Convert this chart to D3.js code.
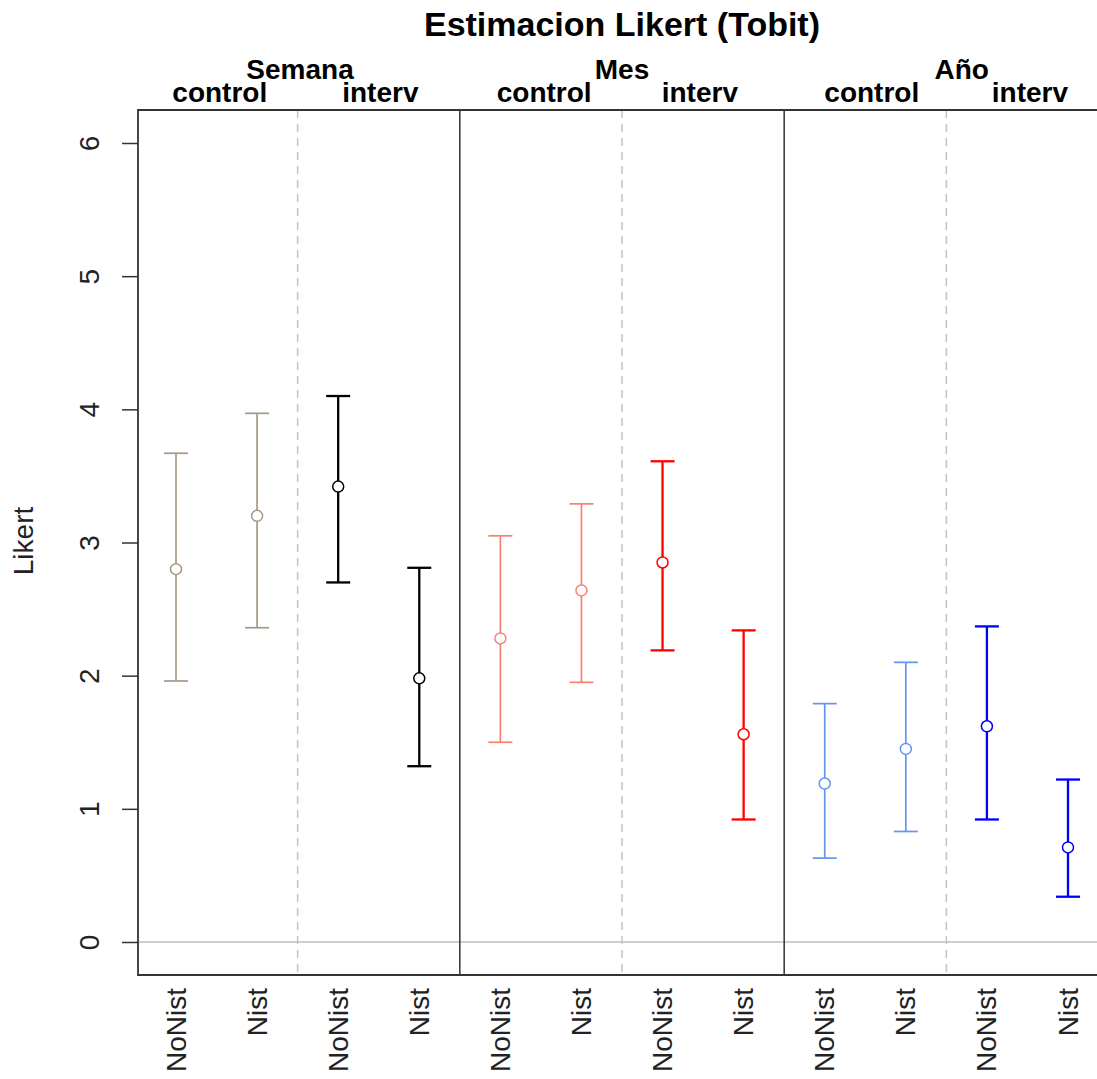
<!DOCTYPE html>
<html>
<head>
<meta charset="utf-8">
<script src="https://cdn.jsdelivr.net/npm/d3@7"></script>
<style>
  body { margin: 0; background: #fff; }
  svg text { font-family: "Liberation Sans", Arial, sans-serif; }
</style>
</head>
<body>
<svg id="chart" width="1097" height="1079"></svg>
<script>
// chart values
const periods = ["Semana", "Mes", "Año"];
const groups = ["control", "interv"];
const types = ["NoNist", "Nist"];
const estimates = [2.80, 3.20, 3.42, 1.98, 2.28, 2.64, 2.85, 1.56, 1.19, 1.45, 1.62, 0.71];
const lower = [1.96, 2.36, 2.70, 1.32, 1.50, 1.95, 2.19, 0.92, 0.63, 0.83, 0.92, 0.34];
const upper = [3.67, 3.97, 4.10, 2.81, 3.05, 3.29, 3.61, 2.34, 1.79, 2.10, 2.37, 1.22];
const seriesColors = ["#A59888", "#000000", "#FA8072", "#FF0000", "#6495ED", "#0000FF"];
const yTicks = [0, 1, 2, 3, 4, 5, 6];

// label placement, in slot units
const periodLabelPos = [1.53, 5.5, 9.69];
const groupLabelPos = [[0.54, 2.52], [4.54, 6.46], [8.58, 10.53]];

const svg = d3.select("#chart");
const plotLeft = 138, plotTop = 110, plotBottom = 975, plotRight = 1120;

const x = d3.scaleLinear().domain([0, 11]).range([176, 1068]);
const y = d3.scaleLinear().domain([0, 6]).range([942, 143]);

// flatten rows
const rows = estimates.map((est, i) => {
    const p = Math.floor(i / 4);
    const g = Math.floor((i % 4) / 2);
    return {
        i: i,
        est: est,
        lo: lower[i],
        hi: upper[i],
        type: types[i % 2],
        interv: g === 1,
        color: seriesColors[p * 2 + g]
    };
});

// zero reference line
svg.append("line")
    .attr("x1", plotLeft).attr("x2", plotRight)
    .attr("y1", y(0)).attr("y2", y(0))
    .attr("stroke", "#BEBEBE").attr("stroke-width", 1.5);

// separators between groups
const seps = d3.range(1.5, 11, 2);
svg.selectAll(".sep")
    .data(seps)
    .join("line")
    .attr("class", "sep")
    .attr("x1", d => x(d)).attr("x2", d => x(d))
    .attr("y1", plotTop).attr("y2", plotBottom)
    .attr("stroke", (d, i) => i % 2 === 0 ? "#C4C4C4" : "#333")
    .attr("stroke-width", 1.5)
    .attr("stroke-dasharray", (d, i) => i % 2 === 0 ? "8,6" : null);

// box (left, top, bottom)
svg.append("path")
    .attr("d", `M${plotRight},${plotTop}H${plotLeft}V${plotBottom}H${plotRight}`)
    .attr("fill", "none")
    .attr("stroke", "#333")
    .attr("stroke-width", 1.8);

// y axis
const yAxis = d3.axisLeft(y).tickValues(yTicks).tickSize(16).tickFormat(d3.format("d"));
const gy = svg.append("g")
    .attr("transform", `translate(${plotLeft},0)`)
    .call(yAxis);
gy.select(".domain").remove();
gy.selectAll("line").attr("stroke", "#333").attr("stroke-width", 1.5);
gy.selectAll("text")
    .attr("x", 0).attr("dy", null)
    .attr("transform", "translate(-49,0) rotate(-90)")
    .attr("text-anchor", "middle")
    .attr("dominant-baseline", "central")
    .attr("font-size", 28)
    .attr("fill", "#222");

// bottom category labels
svg.selectAll(".xlab")
    .data(rows)
    .join("text")
    .attr("class", "xlab")
    .attr("transform", d => `translate(${x(d.i)},988) rotate(-90)`)
    .attr("text-anchor", "end")
    .attr("dominant-baseline", "central")
    .attr("font-size", 28)
    .attr("fill", "#222")
    .text(d => d.type);

// error bars
const bars = svg.selectAll(".bar")
    .data(rows)
    .join("g")
    .attr("class", "bar")
    .attr("stroke", d => d.color)
    .attr("stroke-width", d => d.interv ? 2.3 : 1.7)
    .attr("fill", "none");

bars.append("line")
    .attr("x1", d => x(d.i)).attr("x2", d => x(d.i))
    .attr("y1", d => y(d.lo)).attr("y2", d => y(d.hi));
bars.append("line")
    .attr("x1", d => x(d.i) - 12).attr("x2", d => x(d.i) + 12)
    .attr("y1", d => y(d.hi)).attr("y2", d => y(d.hi));
bars.append("line")
    .attr("x1", d => x(d.i) - 12).attr("x2", d => x(d.i) + 12)
    .attr("y1", d => y(d.lo)).attr("y2", d => y(d.lo));
bars.append("circle")
    .attr("cx", d => x(d.i)).attr("cy", d => y(d.est))
    .attr("r", 5.5)
    .attr("stroke-width", 1.5)
    .attr("fill", "#fff");

// titles
svg.append("text")
    .attr("x", 622).attr("y", 36)
    .attr("text-anchor", "middle")
    .attr("font-size", 34).attr("font-weight", "bold")
    .text("Estimacion Likert (Tobit)");

svg.selectAll(".plab")
    .data(periods)
    .join("text")
    .attr("class", "plab")
    .attr("x", (d, i) => x(periodLabelPos[i])).attr("y", 79)
    .attr("text-anchor", "middle")
    .attr("font-size", 28).attr("font-weight", "bold")
    .text(d => d);

periods.forEach((p, pi) => {
    svg.selectAll(".glab" + pi)
        .data(groups)
        .join("text")
        .attr("class", "glab" + pi)
        .attr("x", (d, gi) => x(groupLabelPos[pi][gi])).attr("y", 102)
        .attr("text-anchor", "middle")
        .attr("font-size", 28).attr("font-weight", "bold")
        .text(d => d);
});

svg.append("text")
    .attr("transform", "translate(23,541) rotate(-90)")
    .attr("text-anchor", "middle")
    .attr("dominant-baseline", "central")
    .attr("font-size", 28)
    .attr("fill", "#222")
    .text("Likert");
</script>
</body>
</html>
